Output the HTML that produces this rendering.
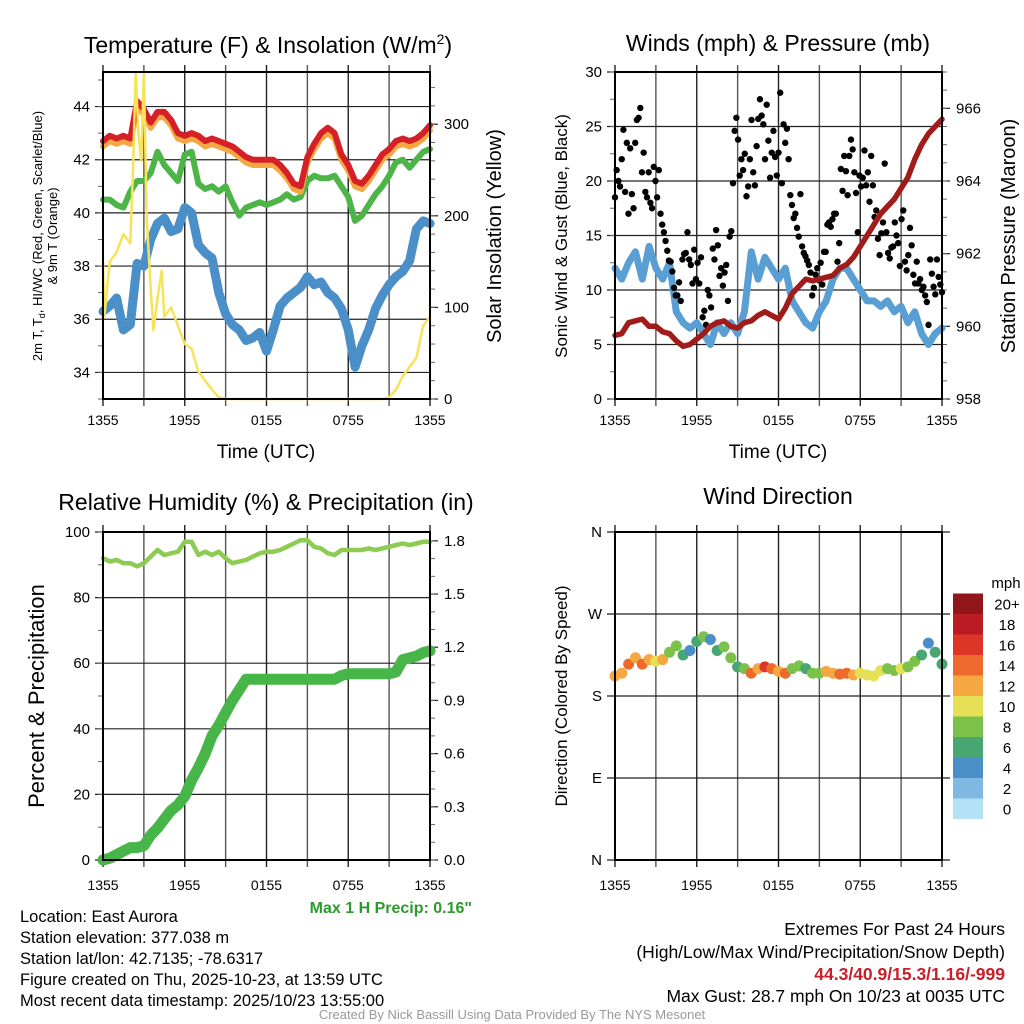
<!DOCTYPE html>
<html><head><meta charset="utf-8">
<style>
html,body{margin:0;padding:0;background:#fff;}
svg{display:block;font-family:"Liberation Sans",sans-serif;}
.cond{font-family:"Liberation Sans Narrow","Liberation Sans",sans-serif;}
</style></head>
<body>
<svg id="chart" width="1024" height="1024" viewBox="0 0 1024 1024" xmlns="http://www.w3.org/2000/svg">
<rect width="1024" height="1024" fill="#fff"/>
<text x="268" y="53" font-size="23" text-anchor="middle">Temperature (F) &amp; Insolation (W/m<tspan font-size="14" dy="-9">2</tspan><tspan dy="9">)</tspan></text>
<text x="778" y="51" font-size="23" text-anchor="middle">Winds (mph) &amp; Pressure (mb)</text>
<text x="266" y="510" font-size="23" text-anchor="middle">Relative Humidity (%) &amp; Precipitation (in)</text>
<text x="778" y="504" font-size="23" text-anchor="middle">Wind Direction</text>
<text x="266" y="458" font-size="19" text-anchor="middle">Time (UTC)</text>
<text x="778" y="458" font-size="19" text-anchor="middle">Time (UTC)</text>
<text transform="translate(42,236) rotate(-90)" font-size="13" text-anchor="middle">2m T, T<tspan font-size="9" dy="3">d</tspan><tspan dy="-3">, HI/WC (Red, Green, Scarlet/Blue)</tspan></text>
<text transform="translate(57,236) rotate(-90)" font-size="13" text-anchor="middle">&amp; 9m T (Orange)</text>
<text transform="translate(501,236) rotate(-90)" font-size="20" text-anchor="middle">Solar Insolation (Yellow)</text>
<text transform="translate(567,236) rotate(-90)" font-size="17" text-anchor="middle">Sonic Wind &amp; Gust (Blue, Black)</text>
<text transform="translate(1015,236) rotate(-90)" font-size="20" text-anchor="middle">Station Pressure (Maroon)</text>
<text transform="translate(44,696) rotate(-90)" font-size="22" text-anchor="middle">Percent &amp; Precipitation</text>
<text transform="translate(567,696) rotate(-90)" font-size="17" text-anchor="middle">Direction (Colored By Speed)</text>
<text x="472" y="913" font-size="16" font-weight="bold" fill="#2e9a2e" text-anchor="end" class="cond">Max 1 H Precip: 0.16"</text>
<g class="cond" font-size="16.5">
<text x="20" y="922">Location: East Aurora</text>
<text x="20" y="943">Station elevation: 377.038 m</text>
<text x="20" y="964">Station lat/lon: 42.7135; -78.6317</text>
<text x="20" y="985">Figure created on Thu, 2025-10-23, at 13:59 UTC</text>
<text x="20" y="1006">Most recent data timestamp: 2025/10/23 13:55:00</text>
</g>
<g class="cond" font-size="17.5" text-anchor="end">
<text x="1005" y="935">Extremes For Past 24 Hours</text>
<text x="1005" y="958">(High/Low/Max Wind/Precipitation/Snow Depth)</text>
<text x="1005" y="980" fill="#c8202a" font-weight="bold">44.3/40.9/15.3/1.16/-999</text>
<text x="1005" y="1002">Max Gust: 28.7 mph On 10/23 at 0035 UTC</text>
</g>
<text x="512" y="1019" font-size="13" fill="#999" text-anchor="middle" class="cond">Created By Nick Bassill Using Data Provided By The NYS Mesonet</text>
</svg>
<script>
// ---- data (hours since 1355 UTC) ----
const halfHours = [0,0.5,1,1.5,2,2.5,3,3.5,4,4.5,5,5.5,6,6.5,7,7.5,8,8.5,9,9.5,10,10.5,11,11.5,12,12.5,13,13.5,14,14.5,15,15.5,16,16.5,17,17.5,18,18.5,19,19.5,20,20.5,21,21.5,22,22.5,23,23.5,24];
const xTickLabels = ['1355','1955','0155','0755','1355'];
const tempRed = [42.7,42.9,42.8,42.9,42.8,44.2,43.9,43.4,43.8,43.8,43.5,43.0,42.9,43.0,42.9,42.7,42.8,42.7,42.6,42.5,42.3,42.1,42.0,42.0,42.0,42.0,41.8,41.5,41.1,41.0,42.1,42.6,43.0,43.2,43.0,42.2,41.8,41.2,41.1,41.4,41.8,42.2,42.4,42.7,42.8,42.7,42.8,43.0,43.3];
const tempOrange = [42.5,42.7,42.6,42.7,42.6,44.0,43.7,43.2,43.6,43.6,43.3,42.8,42.7,42.8,42.7,42.5,42.6,42.5,42.4,42.3,42.1,41.9,41.8,41.8,41.8,41.8,41.6,41.3,40.9,40.8,41.9,42.4,42.8,43.0,42.8,42.0,41.6,41.0,40.9,41.2,41.6,42.0,42.2,42.5,42.6,42.5,42.6,42.8,43.1];
const dewGreen = [40.5,40.5,40.3,40.2,40.8,41.2,41.2,41.5,42.3,41.8,41.5,41.2,42.2,42.3,41.1,40.9,41.0,40.8,41.0,40.4,39.9,40.2,40.3,40.4,40.3,40.4,40.5,40.7,40.5,40.6,41.2,41.4,41.3,41.3,41.4,41.0,40.6,39.7,39.9,40.3,40.7,41.0,41.4,41.9,42.0,41.7,42.0,42.3,42.4];
const chillBlue = [36.3,36.5,36.8,35.6,35.8,38.1,38.0,39.0,39.6,39.8,39.3,39.4,40.2,40.0,38.8,38.5,38.3,37.0,36.2,35.8,35.6,35.2,35.3,35.5,34.8,35.6,36.5,36.8,37.0,37.2,37.6,37.3,37.4,37.0,36.8,36.4,35.6,34.2,35.0,35.6,36.4,36.9,37.3,37.6,37.8,38.2,39.4,39.7,39.6];
const solarTimes = [0,0.1,0.5,1,1.5,2,2.2,2.4,2.6,2.8,3.0,3.2,3.5,3.7,4,4.3,4.5,5,5.5,6,6.5,7,7.5,8,8.5,9,20.5,21,21.5,22,22.5,23,23.5,24];
const solarValues = [150,90,150,160,180,170,250,357,290,260,357,200,120,75,110,140,90,100,80,60,55,30,20,10,2,0,0,2,10,25,35,45,80,90];
const windSpeed = [12,11,12.5,13.5,11,14,12,11,12.5,8,7,6.5,7,6,5,7,6,7,6,8,13.5,11,13,12,11,12,9,8,7,6.5,8,9,11,12,12,11,10,9,9,8.5,9,8,8.5,7,8,6,5,6,6.5];
const pressure = [959.75,959.8,960.1,960.15,960.2,960.0,960.0,959.85,959.8,959.6,959.45,959.5,959.65,959.8,960.0,960.1,960.15,960.0,959.95,960.1,960.15,960.3,960.4,960.3,960.2,960.5,960.9,961.1,961.3,961.25,961.3,961.35,961.4,961.6,961.7,961.9,962.2,962.5,962.8,963.1,963.3,963.5,963.8,964.1,964.6,965.0,965.3,965.5,965.7];
const gusts = [18.5,21,20,19.5,22,24.7,19,23.5,17,23,18.8,17.5,23.5,25.6,25.8,26.7,20.8,22.6,19,18.5,20.8,18,17.5,21.3,20,18.5,21,17,16,
15.3,14.5,13.6,12.7,12.6,11.7,10.2,9.5,9.5,10.7,9,12.8,13.3,13.4,15.3,12.8,12.3,10.6,13.7,11,12.5,10.6,13,7.5,8.1,6.8,10,9.5,8.4,13.8,12.8,15.5,14.1,11.3,12.0,10.4,11.6,12.3,9,14.9,15.4,19.8,
24.6,25.8,23.8,20.5,22,21,22.5,18.6,19.5,22,25.6,20.8,19.6,23.2,25.7,27.5,26,25.2,22,27,23.7,20.3,22.6,24.6,22.2,20.5,22.6,28.1,19.8,25.2,23.5,24.8,22,
18.7,17.8,16.6,17,15.7,14.9,18.8,14,13.4,13.1,12.7,12.3,11.6,9.5,10.2,11.4,12,10.9,12.5,10.5,13.5,13.5,16,16.2,15.8,16.5,17,17,12.6,14.3,
21.1,19.1,22.3,20.9,18.7,22.3,23.8,22.9,20.8,18.9,15.3,20.5,19.5,20.3,22.8,19.6,20.8,18.1,22.3,19.6,16.7,17.3,14.7,13.2,15.2,16.2,21.6,15.3,13.4,
12.9,13.9,14,16.2,15,14.3,12.2,16.5,17.3,12.6,11.8,13.2,15.7,14.1,11.4,10.6,12.6,10.6,11,10,10.3,9.5,8.9,6.8,12.8,11.5,10.3,9.6,12.8,11.2,10.5,9.8];
const rhValues = [92,91,91.5,90.5,90.5,89.5,90.5,92.5,94.5,93,93.5,94,97,97,93,94,93,94,92,90.5,91,91.5,92.5,93.5,94,94,94.5,95.5,96.5,97.5,97.5,95.5,95,93.5,93,94.5,94.5,94.5,94.5,95,94.5,95,95.5,96,96.5,96,96.5,97,97];
const precipValues = [0,0.01,0.03,0.05,0.07,0.07,0.08,0.14,0.18,0.23,0.28,0.31,0.36,0.45,0.52,0.6,0.7,0.76,0.83,0.9,0.96,1.02,1.02,1.02,1.02,1.02,1.02,1.02,1.02,1.02,1.02,1.02,1.02,1.02,1.02,1.04,1.05,1.05,1.05,1.05,1.05,1.05,1.05,1.06,1.13,1.14,1.15,1.17,1.18];
const dirValues = [202,205,215,222,215,220,218,220,228,235,225,230,240,245,242,230,234,222,212,210,205,210,212,210,207,205,210,213,210,205,205,207,205,204,205,203,205,203,202,208,210,208,210,212,218,225,238,228,215];
const dirSpeeds = [12,12,13,12,14,12,10,12,8,7,6,4,6,7,4,5,7,7,6,8,14,12,15,14,12,13,7,8,6,7,8,12,12,13,14,12,10,10,9,10,8,8,10,8,7,6,4,5,6];
const speedBins = ['0','2','4','6','8','10','12','14','16','18','20+'];
const speedColors = ['#b3e2f7','#7fb9e3','#4a8fc7','#47a672','#7cc24a','#e5e056','#f5a742','#ee6a2c','#dd3528','#bb1c24','#921519'];

const NS='http://www.w3.org/2000/svg';
const svg=document.getElementById('chart');
function el(tag, name){
  const e=document.createElementNS(NS,tag);
  
  
  svg.appendChild(e);
  return e;
}
function setA(e,o){for(const k in o)e.setAttribute(k,o[k]);return e;}
function txt(x,y,s,size,anchor,name){
  const t=el('text',name);
  setA(t,{x:x,y:y,'font-size':size,'text-anchor':anchor});
  t.textContent=s;return t;
}
function panel(P){
  P.sx=t=>P.x0+t/24*(P.x1-P.x0);
  P.syL=v=>P.y1-(v-P.lmin)/(P.lmax-P.lmin)*(P.y1-P.y0);
  P.syR=v=>P.y1-(v-P.rmin)/(P.rmax-P.rmin)*(P.y1-P.y0);
  return P;
}
function axes(P,leftTicks,leftMinor,leftLabels,rightTicks,rightMinor,rightLabels,xLabelY){
  for(let h=0;h<=24;h+=3){
    const l=el('line',P.id+'-vgrid');
    const x=P.sx(h);
    setA(l,{x1:x,x2:x,y1:P.y0-7,y2:P.y1+7,stroke:(h%6===0)?'#222':'#555','stroke-width':1.4});
  }
  leftTicks.forEach((v,i)=>{
    const y=P.syL(v);
    const l=el('line',P.id+'-hgrid');
    setA(l,{x1:P.x0-8,x2:(rightTicks?P.x1:P.x1+8),y1:y,y2:y,stroke:'#222','stroke-width':1.2});
    txt(P.x0-13,y+5,leftLabels[i],15,'end',P.id+'-left-tick-label');
  });
  leftMinor.forEach(v=>{
    const y=P.syL(v);
    const l=el('line',P.id+'-left-minor-tick');
    setA(l,{x1:P.x0-5,x2:P.x0,y1:y,y2:y,stroke:'#666','stroke-width':1});
  });
  if(rightTicks){
    rightTicks.forEach((v,i)=>{
      const y=P.syR(v);
      const l=el('line',P.id+'-right-tick');
      setA(l,{x1:P.x1,x2:P.x1+8,y1:y,y2:y,stroke:'#222','stroke-width':1.2});
      txt(P.x1+14,y+5,rightLabels[i],15,'start',P.id+'-right-tick-label');
    });
    rightMinor.forEach(v=>{
      const y=P.syR(v);
      const l=el('line',P.id+'-right-minor-tick');
      setA(l,{x1:P.x1,x2:P.x1+5,y1:y,y2:y,stroke:'#666','stroke-width':1});
    });
  }
  xTickLabels.forEach((s,i)=>{
    txt(P.sx(i*6),xLabelY,s,14,'middle',P.id+'-x-tick-label');
  });
}
function frame(P){
  const r=el('rect',P.id+'-frame');
  setA(r,{x:P.x0,y:P.y0,width:P.x1-P.x0,height:P.y1-P.y0,fill:'none',stroke:'#000','stroke-width':2});
}
function line(P,ts,vs,sy,color,w,name){
  const p=el('path',name);
  let d='';
  ts.forEach((t,i)=>{d+=(i?'L':'M')+P.sx(t).toFixed(1)+','+sy(vs[i]).toFixed(1);});
  setA(p,{d:d,fill:'none',stroke:color,'stroke-width':w,'stroke-linejoin':'round','stroke-linecap':'round'});
  return p;
}
function range(a,b,s){const r=[];for(let v=a;v<=b+1e-9;v+=s)r.push(+v.toFixed(3));return r;}

// ---- Panel 1: temperature ----
const P1=panel({id:'temp',x0:103,x1:430,y0:72,y1:399,lmin:33,lmax:45.3,rmin:0,rmax:357});
axes(P1,[34,36,38,40,42,44],range(33,45,1),['34','36','38','40','42','44'],[0,100,200,300],range(0,340,20),['0','100','200','300'],425);
line(P1,halfHours,chillBlue,P1.syL,'#4a8fc7',9,'wind-chill-line');
line(P1,halfHours,dewGreen,P1.syL,'#4db548',6,'dewpoint-line');
line(P1,halfHours,tempOrange,P1.syL,'#f5a742',6,'temp-9m-line');
line(P1,halfHours,tempRed,P1.syL,'#d42026',6,'temp-2m-line');
line(P1,solarTimes,solarValues,P1.syR,'#f7e35a',2.5,'solar-insolation-line');
frame(P1);

// ---- Panel 2: winds ----
const P2=panel({id:'wind',x0:615,x1:942,y0:72,y1:399,lmin:0,lmax:30,rmin:958,rmax:967});
axes(P2,[0,5,10,15,20,25,30],range(0,30,2.5),['0','5','10','15','20','25','30'],[958,960,962,964,966],range(958,967,0.5),['958','960','962','964','966'],425);
line(P2,halfHours,windSpeed,P2.syL,'#5a9fd4',7,'sonic-wind-line');
gusts.forEach((g,i)=>{
  const c=el('circle','gust-point');
  setA(c,{cx:P2.sx(i*24/(gusts.length-1)),cy:P2.syL(g),r:3.2,fill:'#000'});
});
line(P2,halfHours,pressure,P2.syR,'#a11b1b',5.5,'pressure-line');
frame(P2);

// ---- Panel 3: RH / precip ----
const P3=panel({id:'rh',x0:103,x1:430,y0:532,y1:860,lmin:0,lmax:100,rmin:0,rmax:1.85});
axes(P3,[0,20,40,60,80,100],range(0,100,10),['0','20','40','60','80','100'],[0,0.3,0.6,0.9,1.2,1.5,1.8],range(0,1.8,0.1),['0.0','0.3','0.6','0.9','1.2','1.5','1.8'],890);
line(P3,halfHours,rhValues,P3.syL,'#8ccc50',4.5,'relative-humidity-line');
line(P3,halfHours,precipValues,P3.syR,'#47b548',11,'precipitation-line');
frame(P3);

// ---- Panel 4: direction ----
const P4=panel({id:'dir',x0:615,x1:942,y0:532,y1:860,lmin:0,lmax:360,rmin:0,rmax:1});
axes(P4,[0,90,180,270,360],[],['N','E','S','W','N'],null,null,null,890);
dirValues.forEach((d,i)=>{
  const c=el('circle','direction-point');
  const bin=Math.min(10,Math.round(dirSpeeds[i]/2));
  setA(c,{cx:P4.sx(halfHours[i]),cy:P4.syL(d),r:5.5,fill:speedColors[bin]});
});
frame(P4);
txt(1006,588,'mph',15,'middle','colorbar-title');
speedBins.forEach((s,i)=>{
  const y=819-(i+1)*20.5;
  const r=el('rect','colorbar-swatch');
  setA(r,{x:953,y:y,width:30,height:20.5,fill:speedColors[i]});
  txt(1007,y+16,s,15,'middle','colorbar-label');
});
</script>
</body></html>
